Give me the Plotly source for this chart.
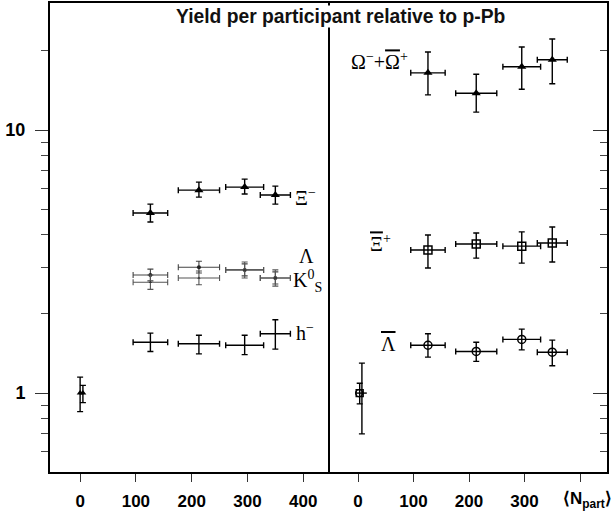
import plotly.graph_objects as go

# ---------------- data ----------------
npart = [126, 213, 295, 350]
npart_err = [31, 37, 34, 27]

xi_minus = [4.84, 5.91, 6.07, 5.66]
xi_minus_hi = [5.23, 6.34, 6.51, 6.12]
xi_minus_lo = [4.47, 5.56, 5.71, 5.23]

lambda0 = [2.81, 3.01, 2.94, 2.74]
lambda0_hi = [2.96, 3.17, 3.10, 2.89]
lambda0_lo = [2.67, 2.86, 2.79, 2.60]

k0s = [2.64, 2.74, 2.94, 2.74]
k0s_hi = [2.81, 2.91, 3.15, 2.94]
k0s_lo = [2.48, 2.58, 2.74, 2.55]

h_minus = [1.56, 1.54, 1.52, 1.68]
h_minus_hi = [1.69, 1.66, 1.66, 1.90]
h_minus_lo = [1.44, 1.41, 1.40, 1.47]

omega = [16.5, 13.8, 17.4, 18.5]
omega_hi = [19.8, 16.3, 20.7, 22.2]
omega_lo = [13.6, 11.7, 14.3, 15.0]

xibar_plus = [3.50, 3.69, 3.62, 3.72]
xibar_plus_hi = [3.99, 4.06, 4.10, 4.28]
xibar_plus_lo = [2.99, 3.26, 3.12, 3.15]

lambdabar = [1.52, 1.44, 1.60, 1.43]
lambdabar_hi = [1.68, 1.56, 1.75, 1.59]
lambdabar_lo = [1.37, 1.32, 1.46, 1.27]

# p-Pb reference points (normalised to 1)
ref_left_x = [0, 5]
ref_left_hi = [1.15, 1.07]
ref_left_lo = [0.85, 0.92]
ref_right_x = [7, 3]
ref_right_hi = [1.30, 1.09]
ref_right_lo = [0.70, 0.91]

x_ticks = [0, 100, 200, 300, 400]
left_tick_text = ["0", "100", "200", "300", "400"]
right_tick_text = ["0", "100", "200", "300", ""]
y_major = [1, 10]
y_minor = [0.6, 0.7, 0.8, 0.9, 2, 3, 4, 5, 6, 7, 8, 9, 20]

# ---------------- figure ----------------
W, H = 615, 514
ML, MR, MT, MB = 50, 8, 3, 42
PW, PH = W - ML - MR, H - MT - MB


def paper(xp, yp):
    return (xp - ML) / PW, (H - MB - yp) / PH


def err(v, hi, lo, w=3, col="black", th=1.4):
    return dict(type="data", symmetric=False,
                array=[h - a for a, h in zip(v, hi)],
                arrayminus=[a - l for a, l in zip(v, lo)],
                width=w, color=col, thickness=th)


def xerr(col="black", th=1.4):
    return dict(type="data", array=npart_err, width=3, color=col, thickness=th)


fig = go.Figure()

# left panel
fig.add_trace(go.Scatter(x=npart, y=xi_minus, mode="markers",
                         marker=dict(symbol="triangle-up", size=8, color="black"),
                         error_y=err(xi_minus, xi_minus_hi, xi_minus_lo), error_x=xerr(),
                         xaxis="x", yaxis="y"))
fig.add_trace(go.Scatter(x=npart, y=lambda0, mode="markers",
                         marker=dict(symbol="circle", size=4, color="#222"),
                         error_y=err(lambda0, lambda0_hi, lambda0_lo, col="#444", th=1.1),
                         error_x=xerr(col="#444", th=1.1),
                         xaxis="x", yaxis="y"))
fig.add_trace(go.Scatter(x=npart, y=k0s, mode="markers",
                         marker=dict(symbol="triangle-up", size=3, color="#333"),
                         error_y=err(k0s, k0s_hi, k0s_lo, col="#555", th=1.1),
                         error_x=xerr(col="#555", th=1.1),
                         xaxis="x", yaxis="y"))
fig.add_trace(go.Scatter(x=npart, y=h_minus, mode="markers",
                         marker=dict(symbol="circle", size=1, color="black"),
                         error_y=err(h_minus, h_minus_hi, h_minus_lo), error_x=xerr(),
                         xaxis="x", yaxis="y"))
fig.add_trace(go.Scatter(x=ref_left_x, y=[1, 1], mode="markers",
                         marker=dict(symbol="triangle-up", size=6, color="black"),
                         error_y=err([1, 1], ref_left_hi, ref_left_lo),
                         xaxis="x", yaxis="y"))

# right panel
fig.add_trace(go.Scatter(x=npart, y=omega, mode="markers",
                         marker=dict(symbol="triangle-up", size=8, color="black"),
                         error_y=err(omega, omega_hi, omega_lo), error_x=xerr(),
                         xaxis="x2", yaxis="y2"))
fig.add_trace(go.Scatter(x=npart, y=xibar_plus, mode="markers",
                         marker=dict(symbol="square-open", size=8, color="black", line=dict(width=1.5)),
                         error_y=err(xibar_plus, xibar_plus_hi, xibar_plus_lo), error_x=xerr(),
                         xaxis="x2", yaxis="y2"))
fig.add_trace(go.Scatter(x=npart, y=lambdabar, mode="markers",
                         marker=dict(symbol="circle-open", size=8, color="black", line=dict(width=1.5)),
                         error_y=err(lambdabar, lambdabar_hi, lambdabar_lo), error_x=xerr(),
                         xaxis="x2", yaxis="y2"))
fig.add_trace(go.Scatter(x=ref_right_x, y=[1, 1], mode="markers",
                         marker=dict(symbol=["line-ew", "square-open"], size=7, color="black",
                                     line=dict(width=1.4, color="black")),
                         error_y=err([1, 1], ref_right_hi, ref_right_lo),
                         xaxis="x2", yaxis="y2"))
fig.add_trace(go.Scatter(x=[ref_right_x[1] - 1], y=[1], mode="markers",
                         marker=dict(symbol="circle-open", size=7, color="black",
                                     line=dict(width=1.3)),
                         xaxis="x2", yaxis="y2"))

split = (330 - ML) / PW
axfont = dict(family="Liberation Sans, Arial, sans-serif", size=17, color="black", weight="bold")
common_x = dict(type="linear", showgrid=False, zeroline=False, showline=True, linewidth=2,
                linecolor="black", mirror=True, ticks="outside", ticklen=8, tickwidth=1.3,
                tickcolor="#333", tickvals=x_ticks, tickfont=axfont, ticklabelstandoff=5,
                automargin=False)
fig.update_layout(
    width=W, height=H, margin=dict(l=ML, r=MR, t=MT, b=MB, autoexpand=False),
    paper_bgcolor="white", plot_bgcolor="white", showlegend=False,
    xaxis=dict(common_x, domain=[0, split], range=[-54, 448], ticktext=left_tick_text),
    xaxis2=dict(common_x, domain=[split, 1], range=[-50.5, 448.6], ticktext=right_tick_text,
                anchor="y2"),
    yaxis=dict(type="log", range=[-0.300, 1.483], showgrid=False, zeroline=False,
               showline=True, linewidth=2, linecolor="black", mirror=False,
               ticks="outside", ticklen=13, tickwidth=1.3, tickcolor="#333",
               tickvals=y_major, ticktext=["1", "10"], tickfont=dict(axfont, size=18),
               ticklabelstandoff=6, automargin=False,
               minor=dict(tickvals=y_minor, ticks="outside", ticklen=7, tickwidth=1.2,
                          tickcolor="#444"),
               anchor="x"),
    yaxis2=dict(type="log", range=[-0.300, 1.483], showgrid=False, zeroline=False,
                showline=True, linewidth=2, linecolor="black", mirror=True,
                side="right", ticks="inside", ticklen=14, tickwidth=1.3, tickcolor="#333",
                tickvals=y_major, showticklabels=False, automargin=False,
                minor=dict(tickvals=y_minor, ticks="inside", ticklen=7, tickwidth=1.2,
                           tickcolor="#444"),
                anchor="x2", matches="y"),
)

serif = dict(family="Liberation Serif, Times New Roman, serif", size=20, color="black")
OL = '<span style="text-decoration:overline">%s</span>'
labels = [
    ("Ξ<sup>−</sup>", 305, 197),
    ("Λ", 306, 256),
    ("K<sup>0</sup><sub>S</sub>", 307, 281),
    ("h<sup>−</sup>", 305, 332),
    ("Ω<sup>−</sup>+" + OL % "Ω" + "<sup>+</sup>", 379, 61),
    (OL % "Ξ" + "<sup>+</sup>", 380, 243),
    (OL % "Λ", 389, 344),
]
for txt, xp, yp in labels:
    px_, py_ = paper(xp, yp)
    fig.add_annotation(text=txt, x=px_, y=py_, xref="paper", yref="paper",
                       showarrow=False, xanchor="center", yanchor="middle", font=serif)

tx, ty = paper(340, 17)
fig.add_annotation(text="Yield per participant relative to p-Pb", x=tx, y=ty,
                   xref="paper", yref="paper", showarrow=False, xanchor="center",
                   yanchor="middle", bgcolor="white", borderpad=0,
                   font=dict(family="Liberation Sans, Arial, sans-serif", size=19.3,
                             color="#111", weight="bold"))

nx, ny = paper(614, 500)
fig.add_annotation(text="⟨N<sub>part</sub>⟩", x=nx, y=ny, xref="paper", yref="paper",
                   showarrow=False, xanchor="right", yanchor="middle",
                   font=dict(family="Liberation Sans, Arial, sans-serif", size=17,
                             color="black", weight="bold"))

fig.write_html("out.html", config={"displayModeBar": False},
               post_script="document.body.style.margin='0';document.body.style.overflow='hidden';")
